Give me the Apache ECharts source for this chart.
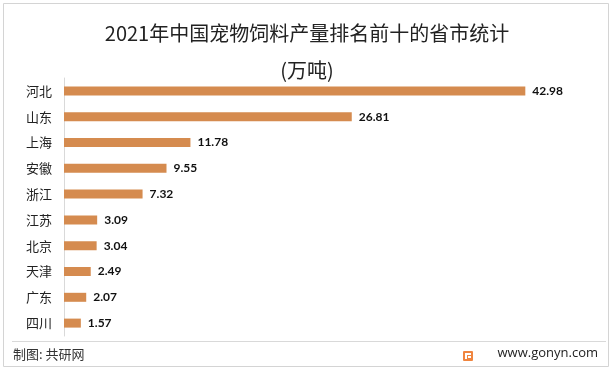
<!DOCTYPE html>
<html><head><meta charset="utf-8">
<script src="https://cdn.jsdelivr.net/npm/echarts@6/dist/echarts.min.js"></script>
<style>html,body{margin:0;padding:0;background:#fff}#c{width:614px;height:372px}</style>
</head><body><div id="c"></div>
<script>
var categories = ['河北','山东','上海','安徽','浙江','江苏','北京','天津','广东','四川'];
var values = [42.98, 26.81, 11.78, 9.55, 7.32, 3.09, 3.04, 2.49, 2.07, 1.57];
var titleText = '2021年中国宠物饲料产量排名前十的省市统计';
var unitText = '(万吨)';
var sourceText = '制图: 共研网';
var siteText = 'www.gonyn.com';

var chart = echarts.init(document.getElementById('c'), null, {renderer:'canvas'});
chart.setOption({
  backgroundColor:'#fff',
  animation:false,
  title:[
    {text:titleText,left:'center',top:18,textStyle:{fontFamily:'Noto Sans CJK SC',fontSize:20,fontWeight:'normal',color:'#222'}},
    {text:unitText,left:'center',top:55,textStyle:{fontFamily:'Noto Sans CJK SC',fontSize:20,fontWeight:'normal',color:'#222'}}
  ],
  grid:{left:64,top:78,width:483,height:258,containLabel:false},
  xAxis:{type:'value',min:0,max:45,show:false},
  yAxis:{type:'category',data:categories,inverse:true,
    axisLine:{show:true,lineStyle:{color:'#d9d9d9',width:1}},
    axisTick:{show:false},
    axisLabel:{margin:12,fontFamily:'Noto Sans CJK SC',fontSize:13,color:'#222'}},
  series:[{type:'bar',data:values,barWidth:9,
    itemStyle:{color:'#D58B4F'},
    label:{show:true,position:'right',distance:7,fontFamily:'Lato',fontWeight:'bold',fontSize:12,color:'#111',
      formatter:function(p){return p.value.toFixed(2);}}}],
  graphic:[
    {type:'rect',shape:{x:3.5,y:3.5,width:605,height:363},style:{fill:'none',stroke:'#d4d4d4',lineWidth:1},silent:true},
    {type:'line',shape:{x1:12,y1:341.5,x2:606,y2:341.5},style:{stroke:'#d9d9d9',lineWidth:1}},
    {type:'text',left:13,top:348,style:{text:sourceText,font:'13px "Noto Sans CJK SC"',fill:'#333'}},
    {type:'text',right:16,top:347,style:{text:siteText,font:'13px "Open Sans"',fill:'#222'}},
    {type:'rect',shape:{x:463,y:351,width:10,height:10,r:1},style:{fill:'#F0853F'}},
    {type:'rect',shape:{x:465,y:353,width:6,height:2},style:{fill:'#fff'}},
    {type:'rect',shape:{x:465,y:353,width:2,height:6},style:{fill:'#fff'}},
    {type:'rect',shape:{x:468,y:356,width:3,height:2},style:{fill:'#fff'}}
  ]
});
</script></body></html>
